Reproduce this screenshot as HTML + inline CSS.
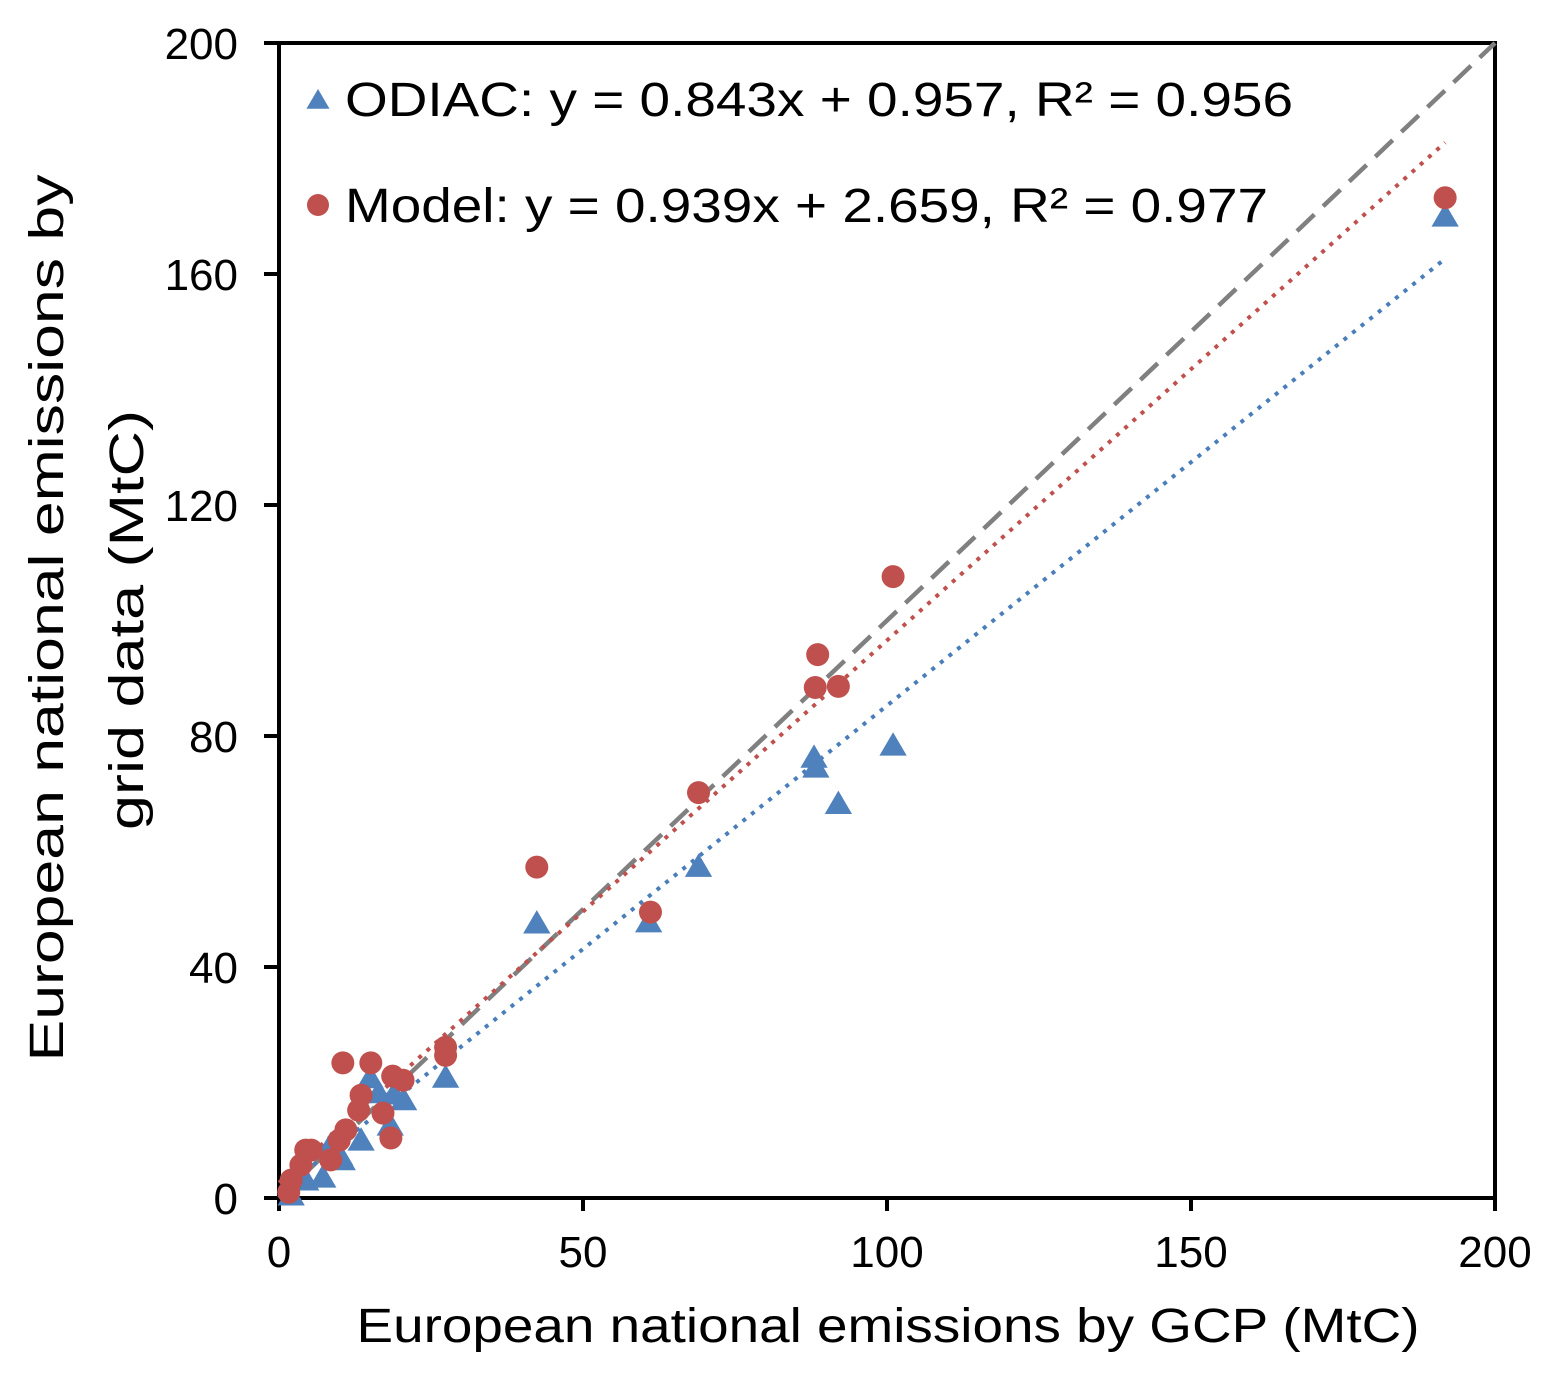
<!DOCTYPE html>
<html><head><meta charset="utf-8"><style>body{margin:0;background:#fff}svg{display:block}text{font-family:"Liberation Sans",Arial,sans-serif;fill:#000}</style></head>
<body>
<svg id="chart" width="1553" height="1375" viewBox="0 0 1553 1375" xmlns="http://www.w3.org/2000/svg"></svg>
<script>
const xTicks=[0,50,100,150,200];
const yTicks=[0,40,80,120,160,200];
const odiacX=[191.8,101,92,88,88.3,69,60.8,42.4,27.4,20.5,18.9,15,18.3,13.5,10.4,7.2,4.4,2,16.4,10,8.5];
const odiacY=[170,78.4,68.3,76.3,74.6,57.4,47.8,47.6,20.9,17,18,20.8,12.6,10,6.6,3.6,3.1,0.5,18.2,7.4,9.2];
const modelX=[191.8,101,88.6,88.2,92,69,61.1,42.4,27.4,27.4,10.5,15.1,18.7,20.4,13.5,13.1,17.1,18.4,11,9.9,4.4,5.3,8.5,3.6,2,1.6];
const modelY=[173.2,107.6,94.1,88.4,88.6,70.2,49.5,57.3,26.1,24.7,23.4,23.4,21.1,20.4,17.8,15.2,14.7,10.4,11.8,10,8.3,8.3,6.6,5.7,3.1,1];
const odiacFit=[0.843,0.957];
const modelFit=[0.939,2.659];
const fitXMax=191.8;
const NS='http://www.w3.org/2000/svg';
const svg=document.getElementById('chart');
const X0=279,X1=1495,Y0=1198,Y1=43;
const sx=v=>X0+(X1-X0)*v/200;
const sy=v=>Y0-(Y0-Y1)*v/200;
function mk(tag,at,parent){const e=document.createElementNS(NS,tag);for(const k in at)e.setAttribute(k,at[k]);(parent||svg).appendChild(e);return e;}
let e;
e=mk('rect',{x:X0,y:Y1,width:X1-X0,height:Y0-Y1,fill:'none',stroke:'#000','stroke-width':4});


yTicks.forEach(t=>{
 e=mk('line',{x1:X0-15,x2:X0,y1:sy(t),y2:sy(t),stroke:'#000','stroke-width':4});
 
 
 e=mk('text',{x:238,y:sy(t)+16,'font-size':44,'text-anchor':'end'});e.textContent=t;
 
 
});
xTicks.forEach(t=>{
 e=mk('line',{x1:sx(t),x2:sx(t),y1:Y0,y2:Y0+13,stroke:'#000','stroke-width':4});
 
 
 e=mk('text',{x:sx(t),y:1267,'font-size':44,'text-anchor':'middle'});e.textContent=t;
 
 
});
e=mk('line',{x1:sx(0),y1:sy(0),x2:sx(200),y2:sy(200),stroke:'#808080','stroke-width':4.5,'stroke-dasharray':'24,12'});


e=mk('line',{x1:sx(0),y1:sy(modelFit[1]),x2:sx(fitXMax),y2:sy(modelFit[0]*fitXMax+modelFit[1]),stroke:'#c0504d','stroke-width':4,'stroke-dasharray':'4,7'});


e=mk('line',{x1:sx(0),y1:sy(odiacFit[1]),x2:sx(fitXMax),y2:sy(odiacFit[0]*fitXMax+odiacFit[1]),stroke:'#4a7ebb','stroke-width':4,'stroke-dasharray':'4,7'});


function tri(cx,cy,s){return `${cx},${cy-s} ${cx-s*1.05},${cy+s*0.8} ${cx+s*1.05},${cy+s*0.8}`;}
odiacX.forEach((v,i)=>{
 e=mk('polygon',{points:tri(sx(v),sy(odiacY[i]),13),fill:'#4f81bd'});
 
 
});
modelX.forEach((v,i)=>{
 e=mk('circle',{cx:sx(v),cy:sy(modelY[i]),r:11.5,fill:'#c0504d'});
 
 
});
e=mk('polygon',{points:tri(318,100,11),fill:'#4f81bd'});


e=mk('text',{x:345,y:116,'font-size':48,textLength:948,lengthAdjust:'spacingAndGlyphs'});e.textContent='ODIAC: y = 0.843x + 0.957, R² = 0.956';


e=mk('circle',{cx:318,cy:205,r:11,fill:'#c0504d'});


e=mk('text',{x:345,y:222,'font-size':48,textLength:923,lengthAdjust:'spacingAndGlyphs'});e.textContent='Model: y = 0.939x + 2.659, R² = 0.977';


e=mk('text',{x:888,y:1342,'font-size':48,'text-anchor':'middle',textLength:1063,lengthAdjust:'spacingAndGlyphs'});e.textContent='European national emissions by GCP (MtC)';


e=mk('text',{x:0,y:0,'font-size':48,'text-anchor':'middle',textLength:887,lengthAdjust:'spacingAndGlyphs',transform:'translate(63,618) rotate(-90)'});e.textContent='European national emissions by';


e=mk('text',{x:0,y:0,'font-size':48,'text-anchor':'middle',textLength:420,lengthAdjust:'spacingAndGlyphs',transform:'translate(143,620) rotate(-90)'});e.textContent='grid data (MtC)';


</script>
</body></html>
